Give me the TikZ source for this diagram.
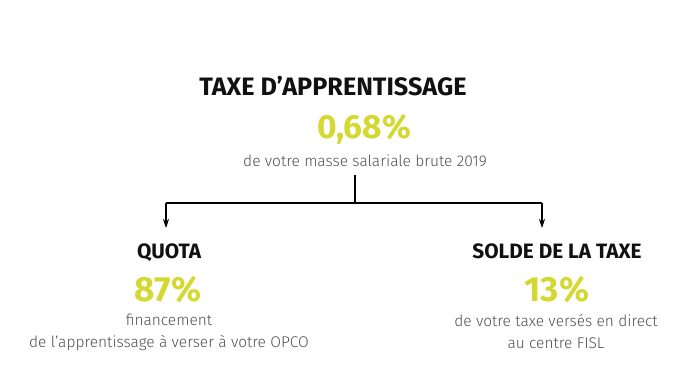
\documentclass[tikz,border=0pt]{standalone}
\usepackage{fontspec}
\setmainfont{Fira Sans}
\newfontfamily\lightfont{Fira Sans Light}
\usetikzlibrary{arrows.meta}
\definecolor{accent}{RGB}{212,216,48}
\definecolor{txtgray}{RGB}{80,80,80}
\definecolor{titleblk}{RGB}{17,17,17}
\begin{document}
\begin{tikzpicture}[x=1pt,y=-1pt,
  titlebox/.style={font=\fontsize{25.2}{28}\selectfont\bfseries, text=titleblk, inner sep=0pt, anchor=base},
  subtitle/.style={font=\fontsize{20.8}{24}\selectfont\bfseries, text=titleblk, inner sep=0pt, anchor=base},
  pct/.style={font=\fontsize{33.5}{36}\selectfont\bfseries, text=accent, inner sep=0pt, anchor=base},
  pctbig/.style={font=\fontsize{35}{38}\selectfont\bfseries, text=accent, inner sep=0pt, anchor=base},
  desc/.style={font=\fontsize{15.5}{22}\selectfont\lightfont, text=txtgray, inner sep=0pt, align=center},
  conn/.style={draw=black, line width=1.1pt},
  tip/.style={-{Stealth[length=9pt,width=6pt]}}
]
\useasboundingbox (0,0) rectangle (696,389);
\node[titlebox] (title) at (333,95) {TAXE D’APPRENTISSAGE};
\node[pct] (p068) at (364,138) {0,68\%};
\node[desc, anchor=base] (d1) at (365,166) {de votre masse salariale brute 2019};
\coordinate (top) at (355,175);
\coordinate (mid) at (355,203);
\coordinate (lc) at (166,203);
\coordinate (rc) at (542,203);
\node[subtitle] (quota) at (169,258) {QUOTA};
\node[pctbig] (p87) at (168,301) {87\%};
\node[desc, anchor=north] (d2) at (169,314) {financement\\de l’apprentissage à verser à votre OPCO};
\node[subtitle] (solde) at (557,258) {SOLDE DE LA TAXE};
\node[pctbig] (p13) at (557,301) {13\%};
\node[desc, anchor=north] (d3) at (556,314) {de votre taxe versés en direct\\au centre FISL};
\coordinate (lt) at (166,228);
\coordinate (rt) at (542,228);
\draw[conn] (top) -- (mid);
\draw[conn, tip] (lc) -- (lt);
\draw[conn, tip] (rc) -- (rt);
\draw[conn] (lc) -- (rc);
\end{tikzpicture}
\end{document}
